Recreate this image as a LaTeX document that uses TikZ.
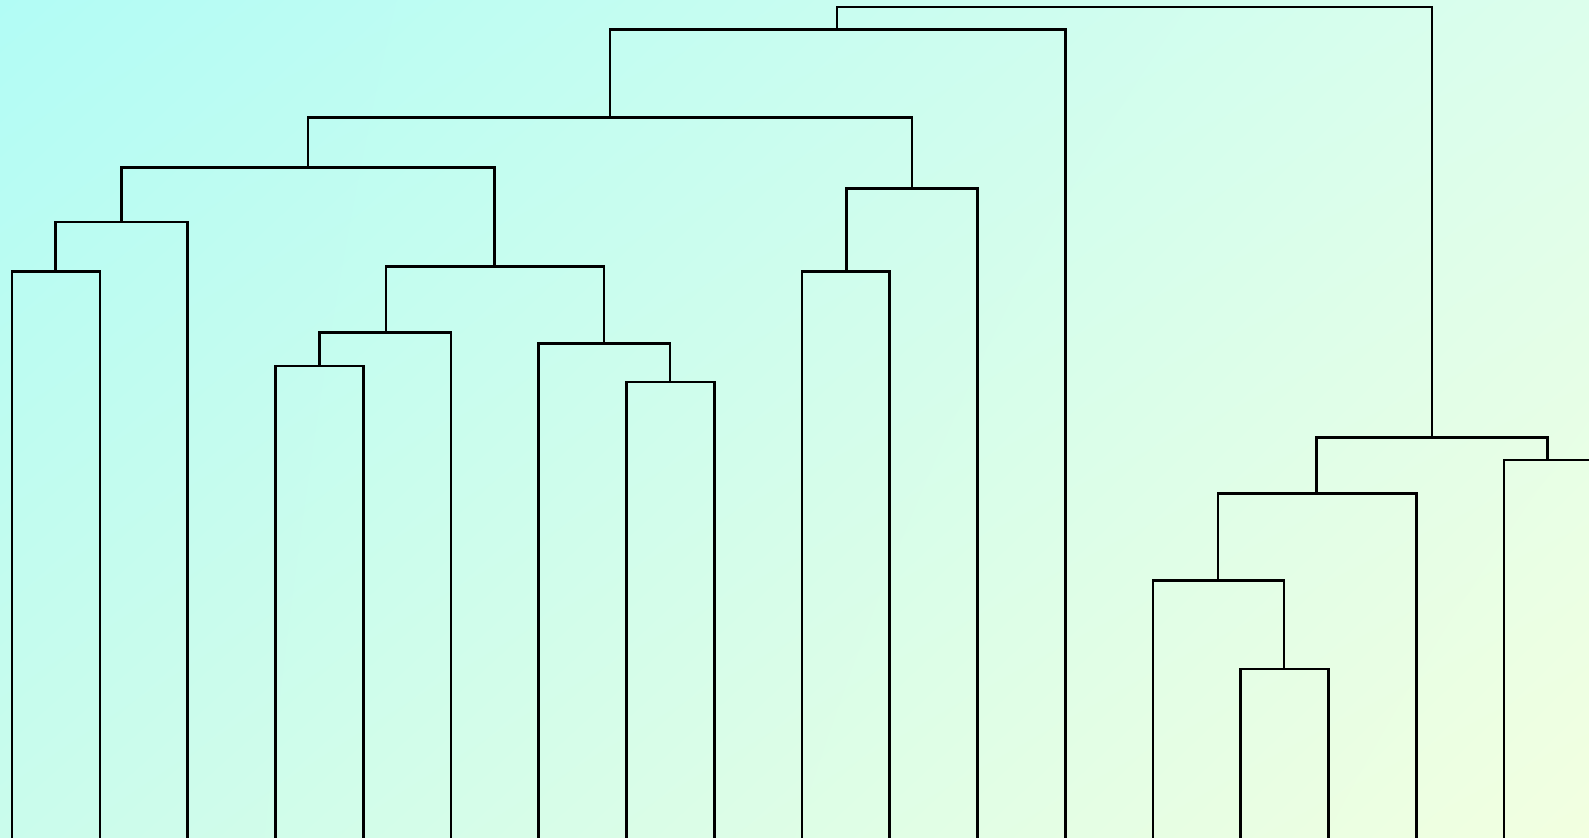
\documentclass[tikz,border=0pt]{standalone}
\usetikzlibrary{calc,shadings}
\definecolor{bgtl}{RGB}{178,252,245}
\definecolor{bgtr}{RGB}{220,254,236}
\definecolor{bgbl}{RGB}{202,252,236}
\definecolor{bgbr}{RGB}{242,255,224}
\tikzset{branch/.style={line width=0.75pt, line join=miter}}
\newcommand{\joinpair}[3]{\draw[branch] (#2) -- (#2 |- #1) -- (#3 |- #1) -- (#3);}
\begin{document}
\begin{tikzpicture}[x=0.010134cm, y=-0.010134cm]
  \shade[upper left=bgtl, upper right=bgtr, lower left=bgbl, lower right=bgbr] (0,0) rectangle (1568,826);
  \useasboundingbox (0,0) rectangle (1568,826);
  \clip (0,0) rectangle (1568,826);
  % leaves
  \foreach \i in {0,...,18}
    \coordinate (l\i) at ({12+86.6*\i},835);
  % merges
  \coordinate (m01) at (55,268);
  \coordinate (m012) at (120,219);
  \coordinate (m34) at (315,361);
  \coordinate (m345) at (381,328);
  \coordinate (m78) at (661,377);
  \coordinate (m678) at (596,339);
  \coordinate (m3to8) at (488,263);
  \coordinate (m0to8) at (304,165);
  \coordinate (m910) at (835,268);
  \coordinate (m911) at (900,186);
  \coordinate (m0to11) at (602,116);
  \coordinate (m0to12) at (826,29);
  \coordinate (m1415) at (1267,660);
  \coordinate (m1315) at (1202,573);
  \coordinate (m1316) at (1299,487);
  \coordinate (m1718) at (1527,454);
  \coordinate (m1318) at (1413,432);
  \coordinate (root) at (1120,7);
  % left cluster
  \joinpair{m01}{l0}{l1}
  \joinpair{m012}{m01}{l2}
  \joinpair{m34}{l3}{l4}
  \joinpair{m345}{m34}{l5}
  \joinpair{m78}{l7}{l8}
  \joinpair{m678}{l6}{m78}
  \joinpair{m3to8}{m345}{m678}
  \joinpair{m0to8}{m012}{m3to8}
  \joinpair{m910}{l9}{l10}
  \joinpair{m911}{m910}{l11}
  \joinpair{m0to11}{m0to8}{m911}
  \joinpair{m0to12}{m0to11}{l12}
  % right cluster
  \joinpair{m1415}{l14}{l15}
  \joinpair{m1315}{l13}{m1415}
  \joinpair{m1316}{m1315}{l16}
  \joinpair{m1718}{l17}{l18}
  \joinpair{m1318}{m1316}{m1718}
  \joinpair{root}{m0to12}{m1318}
\end{tikzpicture}
\end{document}
